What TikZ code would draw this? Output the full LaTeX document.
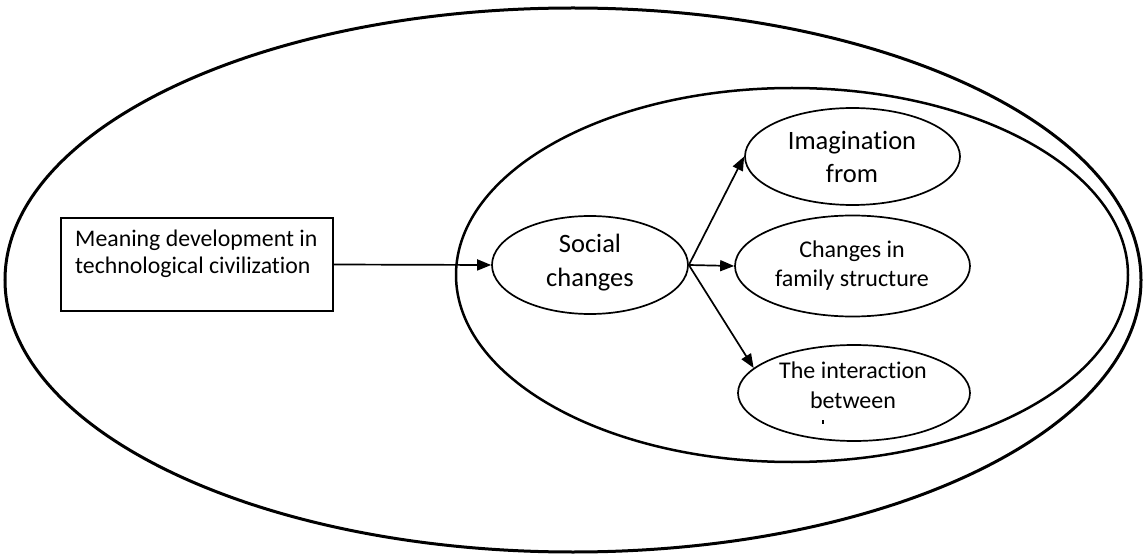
\documentclass[tikz,border=0pt]{standalone}
\usepackage{fontspec}
\setmainfont{Carlito}[Ligatures=NoCommon]
\usetikzlibrary{arrows.meta,shapes.geometric}
\begin{document}
\begin{tikzpicture}[x=1pt,y=-1pt,
  oval/.style={draw, ellipse, inner sep=0pt, line width=1.7pt},
  word/.style={inner sep=0pt, anchor=base},
  big/.style={font=\fontsize{26.5}{32}\selectfont},
  mid/.style={font=\fontsize{24}{29}\selectfont},
  link/.style={line width=1.7pt, -{Triangle[length=14pt,width=11pt]}}]
\useasboundingbox (0,0) rectangle (1144,556);
% enclosing ellipses
\node[oval, line width=3pt, minimum width=1136pt, minimum height=544pt] (outer) at (573,280) {};
\node[oval, line width=2.5pt, minimum width=672pt, minimum height=374pt] (inner) at (792,275) {};
% source box
\node[draw, line width=1.7pt, minimum width=272pt, minimum height=93pt, inner sep=0pt] (box) at (197,264.5) {};
\node[word, anchor=base west, font=\fontsize{23.8}{28}\selectfont] (boxl1) at (75,247) {Meaning development in};
\node[word, anchor=base west, font=\fontsize{23.8}{28}\selectfont] (boxl2) at (75,274) {technological civilization};
% concept ovals
\node[oval, minimum width=196pt, minimum height=98pt] (social) at (590,265) {};
\node[word, big] (socl1) at (590,253) {Social};
\node[word, big] (socl2) at (590,287) {changes};
\node[oval, minimum width=215pt, minimum height=97pt] (imag) at (852.5,156.5) {};
\node[word, big] (imagl1) at (852,150) {Imagination};
\node[word, big] (imagl2) at (852,183) {from};
\node[oval, minimum width=235pt, minimum height=101pt] (family) at (852.5,266) {};
\node[word, mid] (faml1) at (852,258) {Changes in};
\node[word, mid] (faml2) at (852,287) {family structure};
\node[oval, minimum width=232pt, minimum height=96pt] (inter) at (854,393) {};
\node[word, mid] (intl1) at (853,378) {The interaction};
\node[word, mid] (intl2) at (853,408) {between};
\coordinate (mark) at (823,420);
\draw[line width=1.2pt] (mark) -- ++(0,4);
% connectors
\draw[link] (box.east) -- (social.west);
\draw[link] (social.east) -- (imag.west);
\draw[link] (social.east) -- (family.west);
\draw[link] (social.east) -- (inter.166);
\end{tikzpicture}
\end{document}
